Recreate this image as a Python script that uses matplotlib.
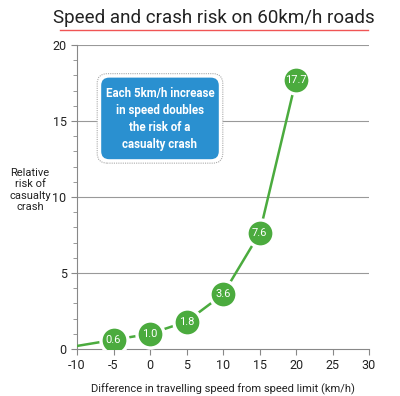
import matplotlib
matplotlib.use("Agg")
import matplotlib.pyplot as plt
from matplotlib.patches import FancyBboxPatch
from matplotlib.ticker import MultipleLocator

speed_diff = [-10, -5, 0, 5, 10, 15, 20]
risk = [0.2, 0.6, 1.0, 1.8, 3.6, 7.6, 17.7]
labels = ["", "0.6", "1.0", "1.8", "3.6", "7.6", "17.7"]
x_ticks = [-10, -5, 0, 5, 10, 15, 20, 25, 30]
y_ticks = [0, 5, 10, 15, 20]

plt.rcParams['font.family'] = ['Roboto', 'DejaVu Sans']
plt.rcParams['axes.unicode_minus'] = False
GREEN = '#4bab3e'
BLUE = '#2a90d0'
GRAY = '#888888'

fig = plt.figure(figsize=(4.0, 3.96), dpi=100)
ax = fig.add_axes([0.1925, 0.1187, 0.73, 0.7677])
ax.set_xlim(-10, 30)
ax.set_ylim(0, 20)
ax.set_xticks(x_ticks)
ax.set_yticks(y_ticks)
ax.yaxis.set_minor_locator(MultipleLocator(1))
ax.tick_params(axis='both', which='major', length=4, color=GRAY, labelsize=9, labelcolor='#222222')
ax.tick_params(axis='y', which='minor', length=3, color=GRAY)
for s in ['top', 'right']:
    ax.spines[s].set_visible(False)
for s in ['left', 'bottom']:
    ax.spines[s].set_color(GRAY)
    ax.spines[s].set_linewidth(0.8)
for yv in y_ticks[1:]:
    ax.axhline(yv, color='#999999', lw=0.8, zorder=1)

ax.plot(speed_diff, risk, color=GREEN, lw=1.8, zorder=3, solid_capstyle='round')
ax.scatter(speed_diff[1:], risk[1:], s=380, color=GREEN, edgecolors='white', linewidths=2.4, zorder=4)
for xv, yv, lb in zip(speed_diff[1:], risk[1:], labels[1:]):
    ax.text(xv, yv, lb, ha='center', va='center', color='white', fontsize=8, zorder=5)

ax.set_xlabel("Difference in travelling speed from speed limit (km/h)", fontsize=8, color='#222222', labelpad=8)
fig.text(0.075, 0.52, "Relative\nrisk of\ncasualty\ncrash", ha='center', va='center', fontsize=8, color='#222222', linespacing=1.2)

# Title
fig.text(0.535, 0.955, "Speed and crash risk on 60km/h roads", ha='center', va='center', fontsize=13.5, color='#222222')
fig.add_artist(plt.Line2D([0.15, 0.92], [0.925, 0.925], color='#f05555', lw=1.0, transform=fig.transFigure))

# Annotation box
outer = FancyBboxPatch((0.243, 0.588), 0.314, 0.226, boxstyle="round,pad=0,rounding_size=0.025",
                       transform=fig.transFigure, facecolor='white', edgecolor='#aaaaaa', lw=0.8, linestyle=(0, (1, 1)), zorder=5)
inner = FancyBboxPatch((0.253, 0.598), 0.294, 0.206, boxstyle="round,pad=0,rounding_size=0.02",
                       transform=fig.transFigure, facecolor=BLUE, edgecolor='none', zorder=6)
fig.add_artist(outer)
fig.add_artist(inner)
fig.text(0.40, 0.70, "Each 5km/h increase\nin speed doubles\nthe risk of a\ncasualty crash", ha='center', va='center',
         fontsize=8.3, color='white', fontweight='bold', linespacing=1.4, zorder=7)

fig.savefig("out.png", dpi=100)
